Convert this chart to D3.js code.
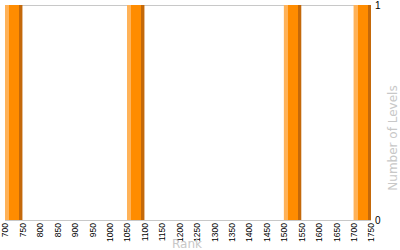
<!DOCTYPE html>
<html>
<head>
<meta charset="utf-8">
<script src="https://cdn.jsdelivr.net/npm/d3@7"></script>
<style>
  body { margin: 0; background: #fff; }
  svg { display: block; font-family: "DejaVu Sans", Verdana, sans-serif; }
</style>
</head>
<body>
<svg id="chart" width="400" height="250"></svg>
<script>
// histogram bins (start of each 50-wide rank bin) and their level counts
var binStarts = [700, 1050, 1500, 1700];
var levelCounts = [1, 1, 1, 1];
var binWidth = 50;
var rankTicks = [700, 750, 800, 850, 900, 950, 1000, 1050, 1100, 1150, 1200,
                 1250, 1300, 1350, 1400, 1450, 1500, 1550, 1600, 1650, 1700, 1750];
var countTicks = [0, 1];

var svg = d3.select('#chart');
var plot = {left: 5, right: 371, top: 5, bottom: 220};

var x = d3.scaleLinear().domain([700, 1750]).range([plot.left, plot.right]);
var y = d3.scaleLinear().domain([0, 1]).range([plot.bottom, plot.top]);

// bar gradient: light edge, orange body, dark edge
var grad = svg.append('defs').append('linearGradient')
  .attr('id', 'barGrad').attr('x1', 0).attr('x2', 1).attr('y1', 0).attr('y2', 0);
[[0, '#ffb258'], [0.23, '#ffb258'], [0.23, '#ff8c00'], [0.81, '#ff8c00'], [0.81, '#c4690a'], [1, '#c4690a']]
  .forEach(function(s){ grad.append('stop').attr('offset', s[0]).attr('stop-color', s[1]); });

// gridlines
svg.append('g')
  .selectAll('line').data(countTicks).enter().append('line')
  .attr('x1', plot.left).attr('x2', plot.right)
  .attr('y1', function(d){ return y(d) + 0.5; })
  .attr('y2', function(d){ return y(d) + 0.5; })
  .attr('stroke', '#c8c8c8').attr('stroke-width', 1);

// bars
var bars = binStarts.map(function(b, i){ return {x0: b, x1: b + binWidth, n: levelCounts[i]}; });
svg.append('g').selectAll('rect').data(bars).enter().append('rect')
  .attr('x', function(d){ return x(d.x0); })
  .attr('width', function(d){ return x(d.x1) - x(d.x0); })
  .attr('y', function(d){ return y(d.n); })
  .attr('height', function(d){ return y(0) - y(d.n); })
  .attr('fill', 'url(#barGrad)');

// x axis
var xAxis = svg.append('g')
  .attr('transform', 'translate(0,' + (plot.bottom + 1) + ')')
  .call(d3.axisBottom(x).tickValues(rankTicks).tickSize(0).tickFormat(d3.format('d')));
xAxis.select('.domain').remove();
xAxis.selectAll('text')
  .attr('font-size', 8.5).attr('fill', '#000').attr('font-family', null)
  .attr('transform', 'rotate(-90)')
  .attr('text-anchor', 'end')
  .attr('x', -2).attr('y', 0).attr('dy', '0.35em');

// y axis on the right
var yAxis = svg.append('g')
  .attr('transform', 'translate(' + plot.right + ',0)')
  .call(d3.axisRight(y).tickValues(countTicks).tickFormat(d3.format('d')).tickSize(0).tickPadding(4));
yAxis.select('.domain').remove();
yAxis.selectAll('text').attr('font-size', 10).attr('fill', '#000').attr('font-family', null);

// titles
svg.append('text')
  .text('Rank')
  .attr('x', 187).attr('y', 248)
  .attr('text-anchor', 'middle')
  .attr('font-size', 12).attr('fill', '#c8c8c8');

svg.append('text')
  .text('Number of Levels')
  .attr('transform', 'translate(400,138) rotate(-90)')
  .attr('text-anchor', 'middle')
  .attr('dy', '-0.25em')
  .attr('font-size', 12).attr('fill', '#c8c8c8');
</script>
</body>
</html>
